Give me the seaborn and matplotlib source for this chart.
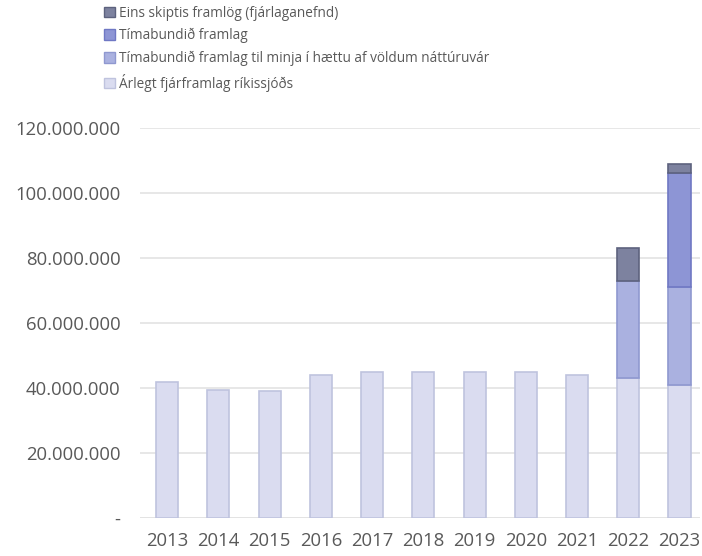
import numpy as np
import pandas as pd
import seaborn as sns
import matplotlib.pyplot as plt
from matplotlib.patches import Patch

years = ['2013', '2014', '2015', '2016', '2017', '2018', '2019', '2020', '2021', '2022', '2023']
arlegt = [42e6, 39.5e6, 39e6, 44e6, 45e6, 45e6, 45e6, 45e6, 44e6, 43e6, 41e6]
minja = [0, 0, 0, 0, 0, 0, 0, 0, 0, 30e6, 30e6]
timabundid = [0, 0, 0, 0, 0, 0, 0, 0, 0, 0, 35.3e6]
eins = [0, 0, 0, 0, 0, 0, 0, 0, 0, 10.2e6, 2.7e6]

series_names = ['Árlegt fjárframlag ríkissjóðs',
                'Tímabundið framlag til minja í hættu af völdum náttúruvár',
                'Tímabundið framlag',
                'Eins skiptis framlög (fjárlaganefnd)']
colors = ['#dadcf0', '#aab1e0', '#8d95d5', '#7d829f']
edges = ['#bfc3de', '#8f98d0', '#6f78c4', '#5d627e']

sns.set_style('white')
plt.rcParams['font.family'] = ['Open Sans', 'DejaVu Sans']

fig = plt.figure(figsize=(7.02, 5.56), dpi=100)
ax = fig.add_axes([140 / 702, 1 - 518 / 556, 560 / 702, (518 - 128) / 556])

df = pd.DataFrame({'year': years, 'a': arlegt, 'b': minja, 'c': timabundid, 'd': eins})
bottom = np.zeros(len(years))
for col, c, e in zip(['a', 'b', 'c', 'd'], colors, edges):
    sns.barplot(data=df, x='year', y=col, color=c, bottom=bottom, width=0.43,
                edgecolor=e, linewidth=1.2, ax=ax, saturation=1)
    bottom = bottom + df[col].values

# hide the empty (zero height) segments so their edges don't show
for p in ax.patches:
    if p.get_height() == 0:
        p.set_visible(False)

ax.set_ylim(0, 120e6)
ax.set_xlim(-0.53, 10.4)
ticks = np.arange(0, 120e6 + 1, 20e6)
ax.set_yticks(ticks)
ax.set_yticklabels(['-'] + [f'{int(t):,}'.replace(',', '.') for t in ticks[1:]])
ax.yaxis.grid(True, color='#e3e3e3', linewidth=1.2)
ax.set_axisbelow(True)
for s in ax.spines.values():
    s.set_visible(False)
ax.axhline(0, color='#e3e3e3', linewidth=1.2, zorder=0)
ax.set_xlabel('')
ax.set_ylabel('')
ax.tick_params(axis='both', length=0, labelsize=13.3, colors='#595959')
ax.tick_params(axis='y', pad=14)
ax.tick_params(axis='x', pad=10)

handles = [Patch(facecolor=c, edgecolor=e) for c, e in zip(colors, edges)][::-1]
fig.legend(handles, series_names[::-1], loc='upper left', bbox_to_anchor=(92 / 702, 1.012),
           frameon=False, fontsize=9.8, labelcolor='#595959', handlelength=0.8,
           handleheight=0.8, handletextpad=0.3, labelspacing=0.55)

fig.savefig('out.png', dpi=100)
